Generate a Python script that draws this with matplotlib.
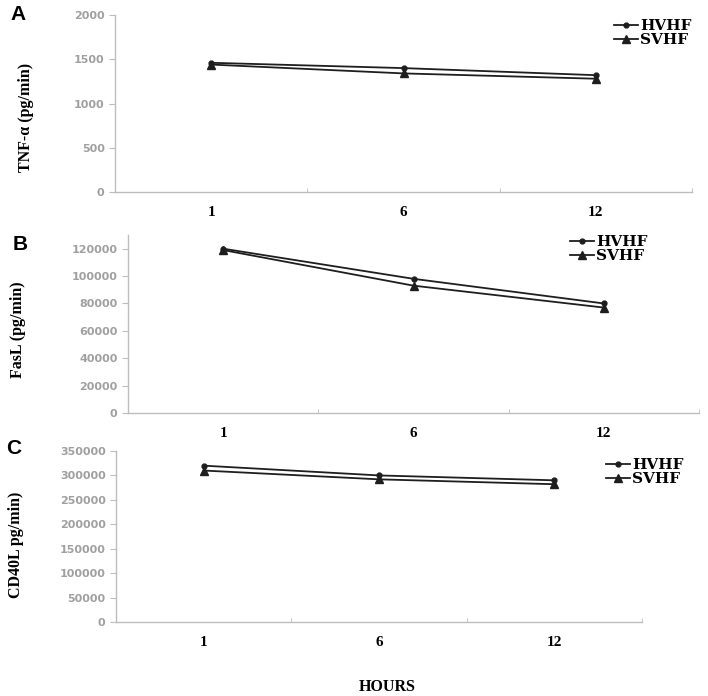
import matplotlib.pyplot as plt
from matplotlib.ticker import FixedLocator

# data
hours = ["1", "6", "12"]
tnf_hvhf = [1460, 1400, 1320]
tnf_svhf = [1440, 1340, 1280]
fasl_hvhf = [120000, 98000, 80000]
fasl_svhf = [119000, 93000, 77000]
cd40_hvhf = [320000, 300000, 290000]
cd40_svhf = [310000, 292000, 282000]

W, H = 708, 696
fig = plt.figure(figsize=(W / 100, H / 100), dpi=100)

serif = "Liberation Serif"
grey = "#bdbdbd"


def px_axes(left, right, top, bottom):
    return fig.add_axes([left / W, 1 - bottom / H, (right - left) / W, (bottom - top) / H])


def panel(ax, box, hv, sv, ymax, ystep, ytop, ylabel, lab_xy, leg_xy):
    left, right, top, bottom = box
    x = list(range(len(hours)))
    ax.plot(x, hv, color="#1e1e1e", lw=1.3, marker="o", ms=3.5, label="HVHF")
    ax.plot(x, sv, color="#1e1e1e", lw=1.3, marker="^", ms=5.5, label="SVHF")
    ax.set_xlim(-0.5, 2.5)
    ax.set_ylim(0, ytop)
    ax.set_yticks(range(0, ymax + 1, ystep))
    ax.tick_params(axis="y", colors="#8a8a8a", labelsize=8, length=4, width=0.8, color=grey)
    for t in ax.get_yticklabels():
        t.set_fontfamily("DejaVu Sans")
        t.set_fontweight("bold")
        t.set_color("#a0a0a0")
    ax.set_xticks(x)
    ax.set_xticklabels(hours, fontfamily=serif, fontweight="bold", fontsize=11)
    ax.tick_params(axis="x", length=0, pad=10)
    ax.xaxis.set_minor_locator(FixedLocator([-0.5, 0.5, 1.5, 2.5]))
    ax.tick_params(axis="x", which="minor", length=3, color=grey, direction="in")
    for s in ["top", "right"]:
        ax.spines[s].set_visible(False)
    for s in ["left", "bottom"]:
        ax.spines[s].set_color(grey)
        ax.spines[s].set_linewidth(1.0)
    # label position is given by its right edge (px) and vertical centre (px)
    ax.set_ylabel(ylabel, fontfamily=serif, fontweight="bold", fontsize=11.5)
    ax.yaxis.set_label_coords((lab_xy[0] - left) / (right - left),
                              (bottom - lab_xy[1]) / (bottom - top))
    fig.legend(loc="upper right", bbox_to_anchor=(leg_xy[0] / W, 1 - leg_xy[1] / H),
               frameon=False, handlelength=1.6, handletextpad=0.15, labelspacing=0.0,
               borderaxespad=0, prop={"family": "DejaVu Serif", "weight": "bold", "size": 11},
               handles=ax.get_lines())


boxA = (115, 692, 15, 192)
axA = px_axes(*boxA)
panel(axA, boxA, tnf_hvhf, tnf_svhf, 2000, 500, 2000, "TNF-α (pg/min)", (34, 117), (698, 13))

boxB = (128, 699, 235, 413)
axB = px_axes(*boxB)
panel(axB, boxB, fasl_hvhf, fasl_svhf, 120000, 20000, 130000, "FasL (pg/min)", (26, 330), (654, 229))

boxC = (116, 642, 451, 622)
axC = px_axes(*boxC)
panel(axC, boxC, cd40_hvhf, cd40_svhf, 350000, 50000, 350000, "CD40L pg/min)", (24, 545), (690, 452))

fig.text(387 / W, 1 - 687 / H, "HOURS", ha="center", va="center",
         fontfamily=serif, fontweight="bold", fontsize=11.5)

for lab, px, py in [("A", 18, 15), ("B", 20, 245), ("C", 14, 448)]:
    fig.text(px / W, 1 - py / H, lab, ha="center", va="center",
             fontfamily="Liberation Sans", fontweight="bold", fontsize=15)

fig.savefig("out.png", dpi=100)
